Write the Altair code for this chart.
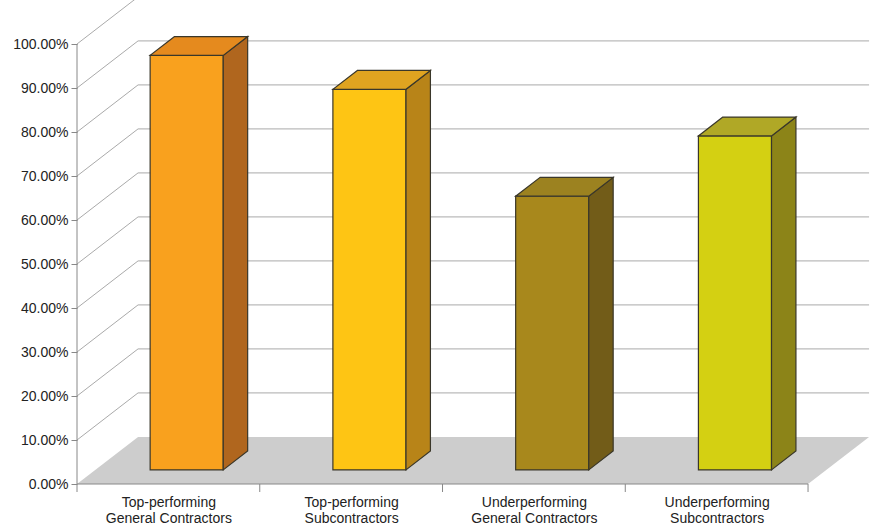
import altair as alt
import pandas as pd

# ---------------- data ----------------
categories = [
    "Top-performing General Contractors",
    "Top-performing Subcontractors",
    "Underperforming General Contractors",
    "Underperforming Subcontractors",
]
label_lines = [
    ["Top-performing", "General Contractors"],
    ["Top-performing", "Subcontractors"],
    ["Underperforming", "General Contractors"],
    ["Underperforming", "Subcontractors"],
]
values = [0.942, 0.865, 0.622, 0.759]
front_colors = ["#F9A11E", "#FEC514", "#A8881C", "#D4D012"]
top_colors = ["#E58A1E", "#E0A420", "#9C8220", "#B0A826"]
side_colors = ["#B0661E", "#B88418", "#725C18", "#8C8418"]
y_ticks = [0.0, 0.1, 0.2, 0.3, 0.4, 0.5, 0.6, 0.7, 0.8, 0.9, 1.0]

# ---------------- oblique 3D geometry (in data units) ----------------
N = len(categories)
DX, DY = 0.334, 0.107      # full floor depth, in category units / value units
F0, F1 = 0.3, 0.7          # bar depth range (fraction of floor depth)
U0, U1 = 0.3, 0.7          # bar extent within its category band

front_rows, side_rows, top_rows = [], [], []
for i, v in enumerate(values):
    front_rows.append(dict(key=f"front{i}", x=i + U0 + F0 * DX, x2=i + U1 + F0 * DX,
                           y=F0 * DY, y2=v + F0 * DY))
    for f in (F0, F1):
        side_rows.append(dict(key=f"side{i}", x=i + U1 + f * DX, y=f * DY, y2=v + f * DY))
        top_rows.append(dict(key=f"top{i}", y=v + f * DY, x=i + U0 + f * DX, x2=i + U1 + f * DX))

front_df = pd.DataFrame(front_rows)
side_df = pd.DataFrame(side_rows)
top_df = pd.DataFrame(top_rows)

keys = [f"front{i}" for i in range(N)] + [f"side{i}" for i in range(N)] + [f"top{i}" for i in range(N)]
cols = front_colors + side_colors + top_colors
color_scale = alt.Scale(domain=keys, range=cols)

grid_rows = []
for t in y_ticks[1:]:
    grid_rows += [dict(t=t, k=0, x=0.0, y=t), dict(t=t, k=1, x=DX, y=t + DY),
                  dict(t=t, k=2, x=N + DX, y=t + DY)]
grid_df = pd.DataFrame(grid_rows)

floor_df = pd.DataFrame([dict(y=0.0, x=0.0, x2=float(N)), dict(y=DY, x=DX, x2=N + DX)])

xs = alt.Scale(domain=[0, 4.35], nice=False, zero=False)
ys = alt.Scale(domain=[0, 1.1], nice=False, zero=False)
STROKE = "#3a372a"

label_expr = " : ".join(
    f"datum.value == {i + 0.5} ? ['{a}', '{b}']" for i, (a, b) in enumerate(label_lines)
) + " : ''"

X_AXIS = alt.Axis(
    values=[i + 0.5 for i in range(N)], labelExpr=label_expr, ticks=False, domain=False,
    grid=False, labelPadding=11, labelFontSize=14, labelLineHeight=16,
    labelFont="Liberation Sans", labelColor="#222222", labelAngle=0,
    labelOverlap=False, labelFlush=False, title=None)
Y_AXIS = alt.Axis(
    values=y_ticks, format=".2%", domain=False, grid=False, tickSize=6,
    tickColor="#888888", labelPadding=3, labelFontSize=14,
    labelFont="Liberation Sans", labelColor="#222222", title=None)


def X(field):
    return alt.X(field, scale=xs, axis=X_AXIS, title=None)


def Y(field):
    return alt.Y(field, scale=ys, axis=Y_AXIS, title=None)


grid = alt.Chart(grid_df).mark_line(color="#AAAAAA", strokeWidth=1).encode(
    x=X("x:Q"), y=Y("y:Q"), detail="t:N", order="k:O",
)

floor = alt.Chart(floor_df).mark_area(orient="horizontal", color="#CDCDCD").encode(
    y=Y("y:Q"), x=X("x:Q"), x2="x2:Q",
)

front = alt.Chart(front_df).mark_rect(stroke=STROKE, strokeWidth=1.2).encode(
    x=X("x:Q"), x2="x2:Q", y=Y("y:Q"), y2="y2:Q",
    color=alt.Color("key:N", scale=color_scale, legend=None),
)

side = alt.Chart(side_df).mark_area(orient="vertical", stroke=STROKE, strokeWidth=1.2,
                                    opacity=1).encode(
    x=X("x:Q"), y=Y("y:Q"), y2="y2:Q",
    color=alt.Color("key:N", scale=color_scale, legend=None),
)

top = alt.Chart(top_df).mark_area(orient="horizontal", stroke=STROKE, strokeWidth=1.2,
                                  opacity=1).encode(
    y=Y("y:Q"), x=X("x:Q"), x2="x2:Q",
    color=alt.Color("key:N", scale=color_scale, legend=None),
)

# axis lines (value axis and floor front edge) and category tick marks
axis_df = pd.DataFrame([dict(x=0.0, x2=0.0, y=0.0, y2=1.0), dict(x=0.0, x2=float(N), y=0.0, y2=0.0)])
axis_lines = alt.Chart(axis_df).mark_rule(color="#888888", strokeWidth=1).encode(
    x=X("x:Q"), x2="x2:Q", y=Y("y:Q"), y2="y2:Q",
)
xtick_df = pd.DataFrame({"x": [float(i) for i in range(N + 1)], "y": [0.0] * (N + 1)})
xticks = alt.Chart(xtick_df).mark_rule(color="#888888", strokeWidth=1, y2Offset=8).encode(
    x=X("x:Q"), y=Y("y:Q"), y2="y:Q",
)

chart = alt.layer(grid, floor, axis_lines, xticks, front, side, top).properties(
    width=795, height=484,
    autosize=alt.AutoSizeParams(type="none"),
    padding={"left": 77, "top": 0, "right": 0, "bottom": 44},
    background="white",
).configure_view(stroke=None)

chart.save("out.html", embed_options={"renderer": "svg", "actions": False})
